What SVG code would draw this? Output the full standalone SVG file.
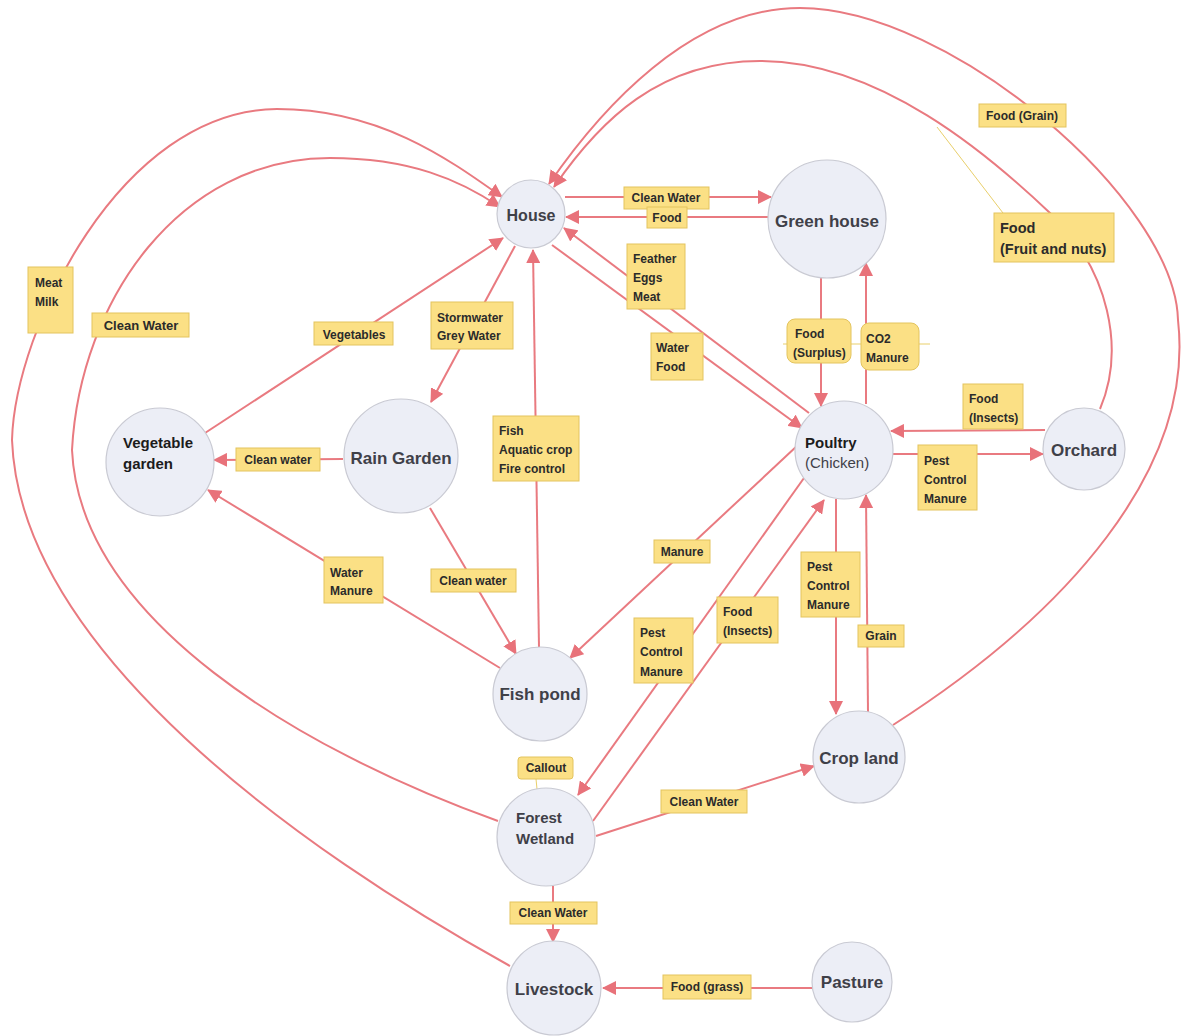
<svg xmlns="http://www.w3.org/2000/svg" width="1183" height="1036" viewBox="0 0 1183 1036">
  <defs>
    <marker id="arrow" markerUnits="userSpaceOnUse" markerWidth="14" markerHeight="14" viewBox="0 0 14 14" refX="13" refY="7" orient="auto">
      <path d="M0,0 L14,7 L0,14 z" fill="#e8727a"/>
    </marker>
    <style>
      .edge { fill: none; stroke: #e97a80; stroke-width: 2; }
      .arr { marker-end: url(#arrow); }
      .tail { fill: none; stroke: #e9cf6a; stroke-width: 1; }
      .node circle { fill: #eceef6; stroke: #c9cad3; stroke-width: 1.2; }
      .nt { font-family: "Liberation Sans", Arial, sans-serif; font-weight: bold; font-size: 17px; fill: #3f4048; text-anchor: middle; }
      .ntb { font-family: "Liberation Sans", Arial, sans-serif; font-weight: bold; font-size: 15px; fill: #1c1c1c; }
      .ntr { font-family: "Liberation Sans", Arial, sans-serif; font-weight: normal; font-size: 15px; fill: #3f4048; }
      .box { fill: #fbe085; stroke: #e3c45e; stroke-width: 1; }
      .lt { font-family: "Liberation Sans", Arial, sans-serif; font-weight: bold; font-size: 12px; fill: #2b2b2b; }
      .c { text-anchor: middle; }
    </style>
  </defs>

  <rect width="1183" height="1036" fill="#ffffff"/>

  <!-- connectors -->
  <g id="connectors">
    <path class="edge arr" d="M565,197 L771,197"/>
    <path class="edge arr" d="M768,217 L566,217"/>
    <path class="edge arr" d="M809,413 L564,228"/>
    <path class="edge arr" d="M552,245 L802,428"/>
    <path class="edge arr" d="M515,246 L431,402"/>
    <path class="edge arr" d="M205,433 L503,238"/>
    <path class="edge arr" d="M343,459 L214,460"/>
    <path class="edge arr" d="M539,647 L533,250"/>
    <path class="edge arr" d="M500,668 L208,490"/>
    <path class="edge arr" d="M430,508 L516,654"/>
    <path class="edge arr" d="M798,445 L570,658"/>
    <path class="edge arr" d="M804,478 L578,795"/>
    <path class="edge arr" d="M593,821 L824,500"/>
    <path class="edge arr" d="M836,499 L836,714"/>
    <path class="edge arr" d="M868,712 L866,495"/>
    <path class="edge arr" d="M596,836 L814,766"/>
    <path class="edge arr" d="M553,886 L553,942"/>
    <path class="edge arr" d="M812,988 L603,988"/>
    <path class="edge arr" d="M821,278 L821,406"/>
    <path class="edge arr" d="M866,404 L866,263"/>
    <path class="edge arr" d="M1045,430 L891,431"/>
    <path class="edge arr" d="M893,454 L1043,454"/>
    <!-- long loops back to the house -->
    <path class="edge arr" d="M510,966 C300,850 20,650 12,440 C15,330 120,110 277,109 C380,109 450,160 502,197"/>
    <path class="edge arr" d="M498,821 C300,750 80,620 72,450 C80,300 180,158 330,158 C410,158 460,180 500,207"/>
    <path class="edge arr" d="M1100,409 C1125,350 1110,270 1050,213 C990,156 880,61 760,61 C660,61 600,120 554,187"/>
    <path class="edge arr" d="M893,725 C1065,615 1195,470 1178,320 C1175,200 950,8 800,8 C690,8 600,110 549,184"/>
    <!-- callout leaders -->
    <path class="tail" d="M937,127 L1003,213"/>
    <path class="tail" d="M783,344 L930,344"/>
    <path class="tail" d="M536,779 L537,789"/>
  </g>

  <!-- nodes -->
  <g id="house" class="node">
    <circle cx="531" cy="214" r="34"/>
    <text class="nt" x="531" y="221" style="font-size:16px">House</text>
  </g>
  <g id="green-house" class="node">
    <circle cx="827" cy="219" r="59"/>
    <text class="nt" x="827" y="227">Green house</text>
  </g>
  <g id="vegetable-garden" class="node">
    <circle cx="160" cy="462" r="54"/>
    <text class="ntb" x="123" y="448">Vegetable</text>
    <text class="ntb" x="123" y="469">garden</text>
  </g>
  <g id="rain-garden" class="node">
    <circle cx="401" cy="456" r="57"/>
    <text class="nt" x="401" y="464">Rain Garden</text>
  </g>
  <g id="poultry" class="node">
    <circle cx="844" cy="450" r="49"/>
    <text class="ntb" x="805" y="448">Poultry</text>
    <text class="ntr" x="805" y="468">(Chicken)</text>
  </g>
  <g id="orchard" class="node">
    <circle cx="1084" cy="449" r="41"/>
    <text class="nt" x="1084" y="456">Orchard</text>
  </g>
  <g id="fish-pond" class="node">
    <circle cx="540" cy="694" r="47"/>
    <text class="nt" x="540" y="700">Fish pond</text>
  </g>
  <g id="crop-land" class="node">
    <circle cx="859" cy="757" r="46"/>
    <text class="nt" x="859" y="764">Crop land</text>
  </g>
  <g id="forest-wetland" class="node">
    <circle cx="546" cy="837" r="49"/>
    <text class="nt" x="516" y="823" style="text-anchor:start;font-size:15px">Forest</text>
    <text class="nt" x="516" y="844" style="text-anchor:start;font-size:15px">Wetland</text>
  </g>
  <g id="livestock" class="node">
    <circle cx="554" cy="988" r="47"/>
    <text class="nt" x="554" y="995">Livestock</text>
  </g>
  <g id="pasture" class="node">
    <circle cx="852" cy="982" r="40"/>
    <text class="nt" x="852" y="988">Pasture</text>
  </g>

  <!-- flow labels -->
  <g id="labels">
    <rect class="box" x="624" y="187" width="85" height="22"/>
    <text class="lt c" x="666" y="202">Clean Water</text>

    <rect class="box" x="647" y="207" width="40" height="21"/>
    <text class="lt c" x="667" y="222">Food</text>

    <rect class="box" x="627" y="244" width="58" height="65"/>
    <text class="lt" x="633" y="263">Feather</text>
    <text class="lt" x="633" y="282">Eggs</text>
    <text class="lt" x="633" y="301">Meat</text>

    <rect class="box" x="651" y="333" width="52" height="47"/>
    <text class="lt" x="656" y="352">Water</text>
    <text class="lt" x="656" y="371">Food</text>

    <rect class="box" x="787" y="319" width="64" height="44" rx="8"/>
    <text class="lt" x="795" y="338">Food</text>
    <text class="lt" x="793" y="357">(Surplus)</text>

    <rect class="box" x="861" y="323" width="58" height="47" rx="8"/>
    <text class="lt" x="866" y="343">CO2</text>
    <text class="lt" x="866" y="362">Manure</text>

    <rect class="box" x="963" y="384" width="60" height="45"/>
    <text class="lt" x="969" y="403">Food</text>
    <text class="lt" x="969" y="422">(Insects)</text>

    <rect class="box" x="918" y="445" width="59" height="65"/>
    <text class="lt" x="924" y="465">Pest</text>
    <text class="lt" x="924" y="484">Control</text>
    <text class="lt" x="924" y="503">Manure</text>

    <rect class="box" x="979" y="104" width="87" height="23"/>
    <text class="lt c" x="1022" y="120">Food (Grain)</text>

    <rect class="box" x="994" y="213" width="120" height="49"/>
    <text class="lt" x="1000" y="233" style="font-size:14.5px">Food</text>
    <text class="lt" x="1000" y="254" style="font-size:14.5px">(Fruit and nuts)</text>

    <rect class="box" x="28" y="267" width="45" height="66"/>
    <text class="lt" x="35" y="287">Meat</text>
    <text class="lt" x="35" y="306">Milk</text>

    <rect class="box" x="92" y="313" width="97" height="24"/>
    <text class="lt c" x="141" y="330" style="font-size:13px">Clean Water</text>

    <rect class="box" x="314" y="322" width="79" height="23"/>
    <text class="lt c" x="354" y="339">Vegetables</text>

    <rect class="box" x="431" y="302" width="82" height="47"/>
    <text class="lt" x="437" y="322">Stormwater</text>
    <text class="lt" x="437" y="340">Grey Water</text>

    <rect class="box" x="236" y="448" width="84" height="23"/>
    <text class="lt c" x="278" y="464">Clean water</text>

    <rect class="box" x="493" y="416" width="86" height="65"/>
    <text class="lt" x="499" y="435">Fish</text>
    <text class="lt" x="499" y="454">Aquatic crop</text>
    <text class="lt" x="499" y="473">Fire control</text>

    <rect class="box" x="324" y="557" width="59" height="46"/>
    <text class="lt" x="330" y="577">Water</text>
    <text class="lt" x="330" y="595">Manure</text>

    <rect class="box" x="431" y="569" width="85" height="23"/>
    <text class="lt c" x="473" y="585">Clean water</text>

    <rect class="box" x="654" y="540" width="56" height="23"/>
    <text class="lt c" x="682" y="556">Manure</text>

    <rect class="box" x="634" y="618" width="59" height="65"/>
    <text class="lt" x="640" y="637">Pest</text>
    <text class="lt" x="640" y="656">Control</text>
    <text class="lt" x="640" y="676">Manure</text>

    <rect class="box" x="717" y="597" width="61" height="46"/>
    <text class="lt" x="723" y="616">Food</text>
    <text class="lt" x="723" y="635">(Insects)</text>

    <rect class="box" x="801" y="552" width="59" height="65"/>
    <text class="lt" x="807" y="571">Pest</text>
    <text class="lt" x="807" y="590">Control</text>
    <text class="lt" x="807" y="609">Manure</text>

    <rect class="box" x="858" y="625" width="46" height="22"/>
    <text class="lt c" x="881" y="640">Grain</text>

    <rect class="box" x="518" y="757" width="55" height="22" rx="3"/>
    <text class="lt c" x="546" y="772">Callout</text>

    <rect class="box" x="661" y="790" width="86" height="23"/>
    <text class="lt c" x="704" y="806">Clean Water</text>

    <rect class="box" x="510" y="902" width="87" height="22"/>
    <text class="lt c" x="553" y="917">Clean Water</text>

    <rect class="box" x="663" y="975" width="88" height="24"/>
    <text class="lt c" x="707" y="991">Food (grass)</text>
  </g>
</svg>
